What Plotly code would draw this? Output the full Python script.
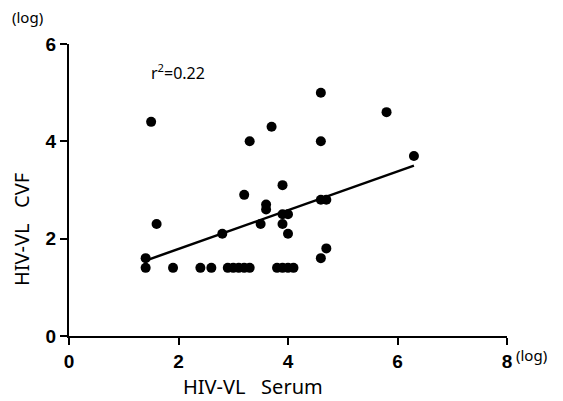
import plotly.graph_objects as go

# Data (log values)
serum = [1.4, 1.4, 1.5, 1.6, 1.9, 2.4, 2.6, 2.8,
         2.9, 3.0, 3.1, 3.2, 3.3,
         3.8, 3.9, 4.0, 4.1,
         3.2, 3.3, 3.7, 3.6, 3.6, 3.5, 3.9, 3.9, 4.0, 3.9, 4.0,
         4.6, 5.8, 4.6, 6.3, 4.6, 4.7, 4.7, 4.6]
cvf = [1.6, 1.4, 4.4, 2.3, 1.4, 1.4, 1.4, 2.1,
       1.4, 1.4, 1.4, 1.4, 1.4,
       1.4, 1.4, 1.4, 1.4,
       2.9, 4.0, 4.3, 2.7, 2.6, 2.3, 3.1, 2.5, 2.5, 2.3, 2.1,
       5.0, 4.6, 4.0, 3.7, 2.8, 2.8, 1.8, 1.6]

fit_x = [1.4, 6.3]
fit_y = [1.55, 3.5]

x_ticks = [0, 2, 4, 6, 8]
y_ticks = [0, 2, 4, 6]

W, H = 563, 401
L, R, T, B = 69, 507, 44, 336

def px(xp):
    return (xp - L) / (R - L)

def py(yp):
    return (B - yp) / (B - T)

fig = go.Figure()
fig.add_trace(go.Scatter(x=fit_x, y=fit_y, mode="lines",
                         line=dict(color="black", width=2.5),
                         showlegend=False, hoverinfo="skip"))
fig.add_trace(go.Scatter(x=serum, y=cvf, mode="markers",
                         marker=dict(color="black", size=10),
                         showlegend=False))

tick_font = dict(family="Liberation Sans, Arial, sans-serif", size=19, color="black", weight="bold")
axis_common = dict(showgrid=False, zeroline=False, showline=True, linecolor="black",
                   linewidth=2, ticks="outside", ticklen=7, tickwidth=2, tickcolor="black",
                   tickfont=tick_font)

fig.update_layout(
    width=W, height=H,
    margin=dict(l=L, r=W - R, t=T, b=H - B, pad=0),
    plot_bgcolor="white", paper_bgcolor="white",
    xaxis=dict(range=[0, 8], tickvals=x_ticks, **axis_common),
    yaxis=dict(range=[0, 6], tickvals=y_ticks, **axis_common),
    font=dict(family="Liberation Sans, Arial, sans-serif", color="black"),
)

ann_font = dict(family="Noto Sans, Liberation Sans, sans-serif", size=15, color="black")
r2_font = dict(family="Noto Sans, Liberation Sans, sans-serif", size=16, color="black")
title_font = dict(family="Noto Sans, Liberation Sans, sans-serif", size=20, color="black")

fig.add_annotation(x=px(27), y=py(17), xref="paper", yref="paper", text="(log)",
                   showarrow=False, font=ann_font, xanchor="center", yanchor="middle")
fig.add_annotation(x=px(531), y=py(355), xref="paper", yref="paper", text="(log)",
                   showarrow=False, font=ann_font, xanchor="center", yanchor="middle")
fig.add_annotation(x=px(149), y=py(72), xref="paper", yref="paper",
                   text="r<sup>2</sup>=0.22",
                   showarrow=False, font=r2_font, xanchor="left", yanchor="middle")
fig.add_annotation(x=px(253), y=py(386), xref="paper", yref="paper",
                   text="HIV-VL\u00a0\u00a0 Serum",
                   showarrow=False, font=title_font, xanchor="center", yanchor="middle")
fig.add_annotation(x=px(21), y=py(230), xref="paper", yref="paper",
                   text="HIV-VL\u00a0\u00a0 CVF", textangle=-90,
                   showarrow=False, font=title_font, xanchor="center", yanchor="middle")

fig.write_html("out.html")
